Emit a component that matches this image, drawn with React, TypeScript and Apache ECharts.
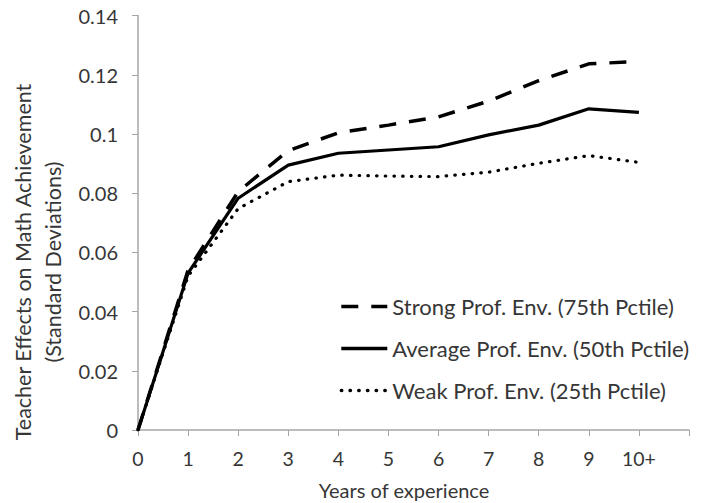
import React, { useEffect, useRef } from "react";
import * as echarts from "echarts";

const categories = ["0", "1", "2", "3", "4", "5", "6", "7", "8", "9", "10+", ""];
const strongEnv = [0, 0.054, 0.0805, 0.0944, 0.1004, 0.103, 0.1058, 0.1111, 0.118, 0.1237, 0.1245];
const averageEnv = [0, 0.053, 0.0783, 0.0895, 0.0935, 0.0946, 0.0957, 0.0997, 0.103, 0.1085, 0.1073];
const weakEnv = [0, 0.052, 0.0748, 0.0839, 0.0861, 0.0858, 0.0856, 0.0871, 0.0901, 0.0927, 0.0904];
const seriesNames = [
  "Strong Prof. Env. (75th Pctile)",
  "Average Prof. Env. (50th Pctile)",
  "Weak Prof. Env. (25th Pctile)",
];
const yTitle1 = "Teacher Effects on Math Achievement";
const yTitle2 = "(Standard Deviations)";
const xTitle = "Years of experience";

const FONT = "Lato, 'Noto Sans', sans-serif";
const TEXT = "#363636";

export default function App() {
  const ref = useRef<HTMLDivElement>(null);
  useEffect(() => {
    if (!ref.current) return;
    const chart = echarts.init(ref.current, undefined, { renderer: "svg" });
    chart.setOption({
      animation: false,
      backgroundColor: "#ffffff",
      grid: { left: 138, right: 15, top: 15.6, bottom: 73, containLabel: false },
      xAxis: {
        type: "category",
        data: categories,
        boundaryGap: false,
        axisLine: { lineStyle: { color: "#a6a6a6", width: 1.5 } },
        axisTick: { show: true, inside: false, length: 6, lineStyle: { color: "#a6a6a6" }, alignWithLabel: true },
        axisLabel: { color: TEXT, fontSize: 19.5, fontFamily: FONT, margin: 18, interval: 0 },
        splitLine: { show: false },
      },
      yAxis: {
        type: "value",
        min: 0,
        max: 0.14,
        interval: 0.02,
        axisLine: { show: true, lineStyle: { color: "#a6a6a6", width: 1.5 } },
        axisTick: { show: true, length: 6, lineStyle: { color: "#a6a6a6" } },
        axisLabel: {
          color: TEXT,
          fontSize: 20,
          fontFamily: FONT,
          margin: 20,
          formatter: (v: number) => String(Math.round(v * 100) / 100),
        },
        splitLine: { show: false },
      },
      legend: {
        orient: "vertical",
        right: 10,
        top: 290,
        itemWidth: 46,
        itemHeight: 14,
        itemGap: 19,
        itemStyle: { opacity: 0, borderWidth: 0 },
        lineStyle: { width: 3.4 },
        textStyle: { color: TEXT, fontSize: 22, fontFamily: FONT, lineHeight: 23 },
        data: seriesNames,
      },
      graphic: [
        {
          type: "text",
          x: 23,
          y: 262,
          rotation: Math.PI / 2,
          style: {
            text: yTitle1,
            fill: TEXT,
            font: `21.5px ${FONT}`,
            align: "center",
            verticalAlign: "middle",
          },
        },
        {
          type: "text",
          x: 53,
          y: 262,
          rotation: Math.PI / 2,
          style: {
            text: yTitle2,
            fill: TEXT,
            font: `21.5px ${FONT}`,
            align: "center",
            verticalAlign: "middle",
          },
        },
        {
          type: "text",
          x: 404,
          y: 490,
          style: {
            text: xTitle,
            fill: TEXT,
            font: `20px ${FONT}`,
            align: "center",
            verticalAlign: "middle",
          },
        },
      ],
      series: [
        {
          name: seriesNames[0],
          type: "line",
          data: strongEnv,
          symbol: "none",
          lineStyle: { color: "#000", width: 3.5, type: [17, 13], cap: "butt" },
          itemStyle: { color: "#000" },
        },
        {
          name: seriesNames[1],
          type: "line",
          data: averageEnv,
          symbol: "none",
          lineStyle: { color: "#000", width: 3.2, type: "solid" },
          itemStyle: { color: "#000" },
        },
        {
          name: seriesNames[2],
          type: "line",
          data: weakEnv,
          symbol: "none",
          lineStyle: { color: "#000", width: 3.2, type: [0.5, 8.2], cap: "round" },
          itemStyle: { color: "#000" },
        },
      ],
    });
    return () => chart.dispose();
  }, []);
  return <div ref={ref} style={{ width: 704, height: 503, position: "absolute", left: 0, top: 0 }} />;
}
